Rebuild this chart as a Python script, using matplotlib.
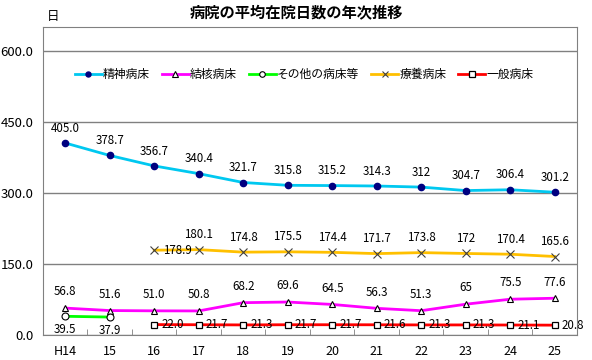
import numpy as np
import matplotlib
matplotlib.use("Agg")
import matplotlib.pyplot as plt

plt.rcParams['font.family'] = ['Noto Sans CJK JP', 'DejaVu Sans']

# CONFIG / data
years = ['H14', '15', '16', '17', '18', '19', '20', '21', '22', '23', '24', '25']
seishin = [405.0, 378.7, 356.7, 340.4, 321.7, 315.8, 315.2, 314.3, 312, 304.7, 306.4, 301.2]
seishin_lbl = ['405.0', '378.7', '356.7', '340.4', '321.7', '315.8', '315.2', '314.3', '312', '304.7', '306.4', '301.2']
kekkaku = [56.8, 51.6, 51.0, 50.8, 68.2, 69.6, 64.5, 56.3, 51.3, 65, 75.5, 77.6]
kekkaku_lbl = ['56.8', '51.6', '51.0', '50.8', '68.2', '69.6', '64.5', '56.3', '51.3', '65', '75.5', '77.6']
sonota = [39.5, 37.9]
sonota_lbl = ['39.5', '37.9']
ryoyo = [178.9, 180.1, 174.8, 175.5, 174.4, 171.7, 173.8, 172, 170.4, 165.6]
ryoyo_lbl = ['178.9', '180.1', '174.8', '175.5', '174.4', '171.7', '173.8', '172', '170.4', '165.6']
ippan = [22.0, 21.7, 21.3, 21.7, 21.7, 21.6, 21.3, 21.3, 21.1, 20.8]
ippan_lbl = ['22.0', '21.7', '21.3', '21.7', '21.7', '21.6', '21.3', '21.3', '21.1', '20.8']

x_all = np.arange(len(years))
x_sonota = x_all[:2]
x_new = x_all[2:]

fig = plt.figure(figsize=(5.92, 3.6), dpi=100)
ax = fig.add_axes([0.0726, 0.0694, 0.902, 0.856])

# === lines
ax.plot(x_all, seishin, color='#00C8F0', lw=2, marker='o', ms=4.5,
        mfc='#000080', mec='#000080', label='精神病床', zorder=3)
ax.plot(x_all, kekkaku, color='#FF00FF', lw=2, marker='^', ms=5,
        mfc='white', mec='black', mew=0.8, label='結核病床', zorder=3)
ax.plot(x_sonota, sonota, color='#00FF00', lw=2, marker='o', ms=5,
        mfc='white', mec='black', mew=0.8, label='その他の病床等', zorder=3)
ax.plot(x_new, ryoyo, color='#FFC000', lw=2, marker='x', ms=6,
        mec='#404040', mew=0.8, label='療養病床', zorder=3)
ax.plot(x_new, ippan, color='#FF0000', lw=2, marker='s', ms=5,
        mfc='white', mec='black', mew=0.9, label='一般病床', zorder=3)

# === data labels
fs = 8.3
for xi, v, t in zip(x_all, seishin, seishin_lbl):
    ax.annotate(t, (xi, v), xytext=(0, 6), textcoords='offset points',
                ha='center', va='bottom', fontsize=fs)
for xi, v, t in zip(x_all, kekkaku, kekkaku_lbl):
    ax.annotate(t, (xi, v), xytext=(0, 7), textcoords='offset points',
                ha='center', va='bottom', fontsize=fs)
for xi, v, t in zip(x_sonota, sonota, sonota_lbl):
    ax.annotate(t, (xi, v), xytext=(0, -5), textcoords='offset points',
                ha='center', va='top', fontsize=fs)
for i, (xi, v, t) in enumerate(zip(x_new, ryoyo, ryoyo_lbl)):
    if i == 0:
        ax.annotate(t, (xi, v), xytext=(6, 0), textcoords='offset points',
                    ha='left', va='center', fontsize=fs)
    else:
        ax.annotate(t, (xi, v), xytext=(0, 6), textcoords='offset points',
                    ha='center', va='bottom', fontsize=fs)
for xi, v, t in zip(x_new, ippan, ippan_lbl):
    ax.annotate(t, (xi, v), xytext=(5, 0), textcoords='offset points',
                ha='left', va='center', fontsize=fs)

# === axes
ax.set_xlim(-0.5, len(years) - 0.5)
ax.set_ylim(0, 650)
ax.set_yticks([0, 150, 300, 450, 600])
ax.set_yticklabels(['0.0', '150.0', '300.0', '450.0', '600.0'], fontsize=9.5)
ax.set_xticks(x_all)
ax.set_xticklabels(years, fontsize=9)
ax.tick_params(axis='x', length=0, pad=7)
ax.tick_params(axis='y', length=0, pad=7)
ax.set_xticks(np.arange(0.5, len(years) - 1, 1), minor=True)
ax.tick_params(axis='x', which='minor', direction='in', length=4, color='#808080')
ax.grid(axis='y', color='#808080', lw=1)
for s in ax.spines.values():
    s.set_color('#808080')

leg = ax.legend(loc='upper center', bbox_to_anchor=(0.489, 0.9), ncol=5,
                frameon=False, fontsize=8.5, handlelength=2.3, columnspacing=1.0,
                handletextpad=0.1, markerscale=0.8)

fig.text(0.5, 0.965, '病院の平均在院日数の年次推移', ha='center', va='center',
         fontsize=11, fontweight='bold')
fig.text(0.09, 0.955, '日', ha='center', va='center', fontsize=9)

fig.savefig('out.png', dpi=100)
